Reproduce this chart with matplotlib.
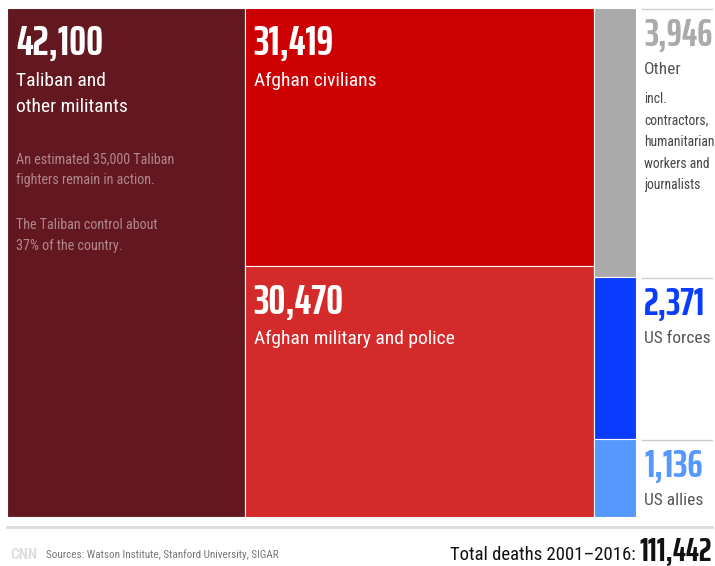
import matplotlib
matplotlib.use('Agg')
import matplotlib.pyplot as plt

plt.rcParams['font.family'] = ['Roboto Condensed', 'DejaVu Sans']
NUMFONT = ['Saira ExtraCondensed', 'Barlow Condensed', 'DejaVu Sans']

# data
labels = ['Taliban and\nother militants', 'Afghan civilians', 'Afghan military and police',
          'Other', 'US forces', 'US allies']
values = [42100, 31419, 30470, 3946, 2371, 1136]
colors = ['#631820', '#cc0000', '#d52a2a', '#aaaaaa', '#0a3cff', '#5599ff']
total = sum(values)

# column groups of the treemap
groups = [[0], [1, 2], [3, 4, 5]]

W, H = 715, 566
fig = plt.figure(figsize=(W / 100, H / 100), dpi=100)
fig.patch.set_facecolor('white')

# treemap area in pixels
x0, x1, y0, y1 = 7, 636, 8, 517
ax = fig.add_axes([x0 / W, 1 - y1 / H, (x1 - x0) / W, (y1 - y0) / H])
ax.set_xlim(0, total)
ax.set_ylim(0, 1)
ax.invert_yaxis()
ax.axis('off')

rects = {}
left = 0
for g in groups:
    gsum = sum(values[i] for i in g)
    bottom = 0
    for i in g:
        h = values[i] / gsum
        ax.bar(left, h, width=gsum, bottom=bottom, align='edge', color=colors[i],
               edgecolor='white', linewidth=0.8)
        rects[i] = (left, bottom, gsum, h)
        bottom += h
    left += gsum


def px(i):
    # top-left corner of rect i in figure pixels
    l, b, w, h = rects[i]
    return x0 + l / total * (x1 - x0), y0 + b * (y1 - y0)


def lines(x, y, s, step, **kw):
    # one text per line, y = baseline of first line (pixels from top)
    for k, ln in enumerate(s.split('\n')):
        fig.text(x / W, 1 - (y + k * step) / H, ln, va='baseline', ha=kw.get('ha', 'left'),
                 **{a: b for a, b in kw.items() if a != 'ha'})


# big blocks: number + label inside
for i in [0, 1, 2]:
    bx, by = px(i)
    lines(bx + 9, by + 47, f'{values[i]:,}', 0, color='white', fontsize=30.5,
          fontweight='bold', family=NUMFONT)
    lines(bx + 9, by + 78, labels[i], 26, color='white', fontsize=14)

bx, by = px(0)
lines(bx + 9, by + 155, 'An estimated 35,000 Taliban\nfighters remain in action.', 21,
      color='#b0878c', fontsize=10.2)
lines(bx + 9, by + 221, 'The Taliban control about\n37% of the country.', 21,
      color='#b0878c', fontsize=10.2)

# small blocks: labels to the right
num_colors = {3: '#aaaaaa', 4: '#0a3cff', 5: '#5599ff'}
for i in [3, 4, 5]:
    bx, by = px(i)
    fig.add_artist(plt.Line2D([642 / W, 712 / W], [1 - (by + 1) / H] * 2,
                              color='#cccccc', linewidth=1))
    lines(644, by + 38, f'{values[i]:,}', 0, color=num_colors[i], fontsize=28,
          fontweight='bold', family=NUMFONT)
    lines(644, by + 66, labels[i], 0, color='#555555', fontsize=12.5)

bx, by = px(3)
lines(644, by + 95, 'incl.\ncontractors,\nhumanitarian\nworkers and\njournalists', 21.5,
      color='#444444', fontsize=9.8)

# footer
fig.add_artist(plt.Line2D([7 / W, 712 / W], [1 - 527 / H] * 2, color='#dddddd', linewidth=2))
lines(10, 559, 'CNN', 0, color='#dddddd', fontsize=11, fontweight='bold')
lines(46, 558, 'Sources: Watson Institute, Stanford University, SIGAR', 0,
      color='#777777', fontsize=8)
lines(712, 560, f'{total:,}', 0, ha='right', fontsize=24, fontweight='bold',
      color='#111111', family=NUMFONT)
lines(636, 560, 'Total deaths 2001–2016:', 0, ha='right', fontsize=13.5, color='#111111')

fig.savefig('out.png', dpi=100, facecolor='white')
